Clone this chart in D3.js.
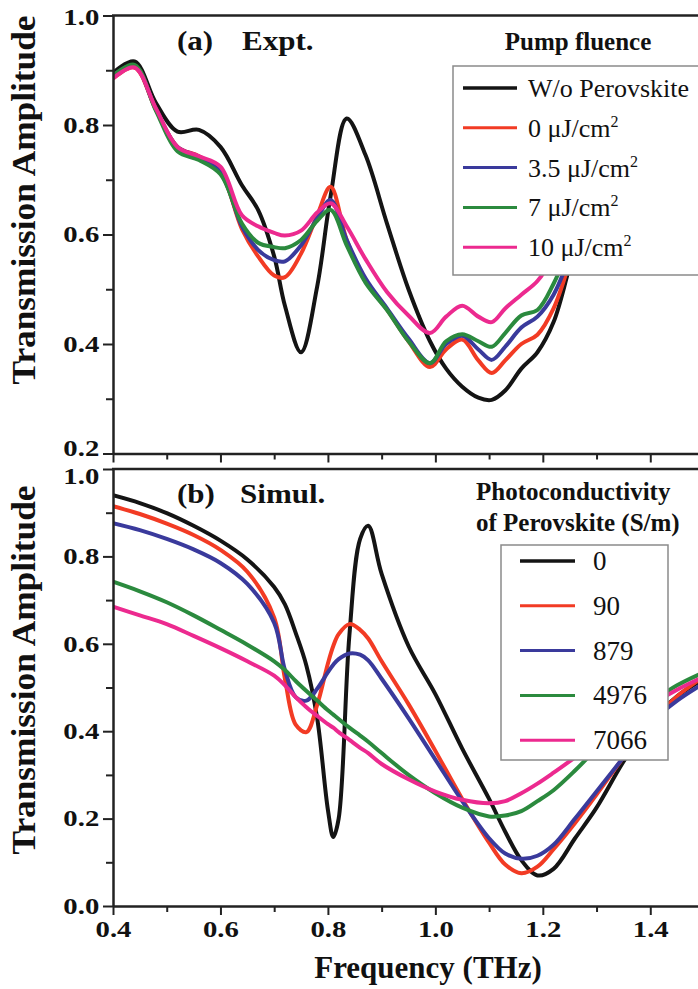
<!DOCTYPE html>
<html>
<head>
<meta charset="utf-8">
<script src="https://cdn.jsdelivr.net/npm/d3@7"></script>
<style>
  html, body { margin: 0; padding: 0; background: #fff; }
  svg { display: block; font-family: "Liberation Serif", "Times New Roman", serif; }
</style>
</head>
<body>
<div id="chart"></div>
<script>
// ---- (a) Expt. ----
const freqA = [0.40, 0.44, 0.48, 0.52, 0.56, 0.60, 0.64, 0.67, 0.70, 0.72, 0.75, 0.78, 0.805, 0.835, 0.87, 0.91, 0.95, 0.99, 1.02, 1.05, 1.08, 1.105, 1.13, 1.16, 1.19, 1.22, 1.25, 1.28];
const exptNoPerov = [0.895, 0.916, 0.84, 0.788, 0.791, 0.76, 0.69, 0.645, 0.56, 0.47, 0.385, 0.505, 0.67, 0.812, 0.745, 0.62, 0.50, 0.405, 0.355, 0.322, 0.302, 0.298, 0.315, 0.355, 0.385, 0.44, 0.541, 0.64];
const expt0 = [0.885, 0.905, 0.828, 0.76, 0.743, 0.714, 0.61, 0.56, 0.525, 0.522, 0.565, 0.635, 0.687, 0.59, 0.515, 0.463, 0.405, 0.358, 0.39, 0.408, 0.37, 0.347, 0.37, 0.40, 0.417, 0.465, 0.55, 0.65];
const expt35 = [0.89, 0.908, 0.828, 0.76, 0.742, 0.714, 0.615, 0.572, 0.553, 0.551, 0.58, 0.63, 0.663, 0.59, 0.52, 0.465, 0.41, 0.365, 0.40, 0.415, 0.39, 0.371, 0.395, 0.43, 0.45, 0.49, 0.56, 0.65];
const expt7 = [0.89, 0.91, 0.826, 0.752, 0.736, 0.71, 0.62, 0.585, 0.577, 0.575, 0.59, 0.625, 0.645, 0.58, 0.512, 0.462, 0.405, 0.365, 0.405, 0.418, 0.405, 0.395, 0.42, 0.452, 0.462, 0.51, 0.58, 0.66];
const expt10 = [0.885, 0.905, 0.83, 0.76, 0.743, 0.724, 0.635, 0.615, 0.603, 0.598, 0.607, 0.64, 0.657, 0.615, 0.555, 0.495, 0.452, 0.42, 0.45, 0.47, 0.45, 0.44, 0.465, 0.49, 0.515, 0.56, 0.62, 0.68];
const exptLabels = ["W/o Perovskite", "0", "3.5", "7", "10"];

// ---- (b) Simul. ----
const freqB = [0.40, 0.45, 0.50, 0.55, 0.60, 0.65, 0.70, 0.72, 0.74, 0.76, 0.78, 0.80, 0.81, 0.82, 0.84, 0.86, 0.875, 0.90, 0.95, 1.00, 1.05, 1.10, 1.13, 1.16, 1.19, 1.22, 1.26, 1.30, 1.35, 1.40, 1.45, 1.50];
const simul0 = [0.94, 0.922, 0.899, 0.87, 0.836, 0.793, 0.73, 0.69, 0.625, 0.55, 0.43, 0.22, 0.158, 0.20, 0.62, 0.84, 0.87, 0.76, 0.595, 0.485, 0.36, 0.245, 0.17, 0.105, 0.07, 0.085, 0.155, 0.225, 0.33, 0.42, 0.48, 0.52];
const simul90 = [0.915, 0.897, 0.875, 0.849, 0.815, 0.765, 0.66, 0.52, 0.415, 0.398, 0.46, 0.555, 0.595, 0.622, 0.645, 0.632, 0.612, 0.56, 0.462, 0.355, 0.245, 0.145, 0.095, 0.075, 0.09, 0.13, 0.19, 0.255, 0.34, 0.42, 0.48, 0.525];
const simul879 = [0.876, 0.86, 0.84, 0.816, 0.785, 0.737, 0.648, 0.54, 0.478, 0.47, 0.497, 0.535, 0.552, 0.565, 0.578, 0.575, 0.562, 0.52, 0.43, 0.335, 0.24, 0.155, 0.12, 0.108, 0.115, 0.14, 0.20, 0.262, 0.34, 0.418, 0.47, 0.51];
const simul4976 = [0.742, 0.72, 0.695, 0.665, 0.632, 0.598, 0.56, 0.54, 0.515, 0.492, 0.47, 0.448, 0.438, 0.428, 0.408, 0.39, 0.376, 0.35, 0.30, 0.258, 0.225, 0.205, 0.207, 0.217, 0.24, 0.265, 0.31, 0.36, 0.42, 0.465, 0.505, 0.535];
const simul7066 = [0.685, 0.665, 0.645, 0.618, 0.59, 0.56, 0.527, 0.505, 0.478, 0.455, 0.435, 0.416, 0.408, 0.398, 0.38, 0.362, 0.35, 0.325, 0.29, 0.262, 0.243, 0.235, 0.24, 0.258, 0.28, 0.305, 0.34, 0.375, 0.42, 0.46, 0.495, 0.525];
const simulLabels = ["0", "90", "879", "4976", "7066"];

const xTicks = [0.4, 0.6, 0.8, 1.0, 1.2, 1.4];
const xMinor = [0.5, 0.7, 0.9, 1.1, 1.3, 1.5];
const yTicksA = [0.2, 0.4, 0.6, 0.8, 1.0];
const yMinorA = [0.3, 0.5, 0.7, 0.9];
const yTicksB = [0.0, 0.2, 0.4, 0.6, 0.8, 1.0];
const yMinorB = [0.1, 0.3, 0.5, 0.7, 0.9];

const colors = ["#141414", "#f23b24", "#3a3a9c", "#2b8a3e", "#ec2a8f"];

const width = 698;
const height = 989;
const plotLeft = 113;
const plotRight = 698;
const axisColor = "#222";

const x = d3.scaleLinear().domain([0.4, 1.5]).range([113, 704]);
const yA = d3.scaleLinear().domain([0.2, 1.0]).range([453.5, 15.5]);
const yB = d3.scaleLinear().domain([0.0, 1.0]).range([906, 469]);

const svg = d3.select("#chart")
    .append("svg")
    .attr("width", width)
    .attr("height", height)
    .attr("viewBox", `0 0 ${width} ${height}`);

// text that is a bit wider than the plain font
const wideText = (parent, tx, ty, str, size, sx, anchor) => {
    return parent.append("text")
        .attr("transform", `translate(${tx},${ty}) scale(${sx},1)`)
        .attr("text-anchor", anchor || "start")
        .attr("font-size", size)
        .attr("font-weight", "bold")
        .attr("fill", "#111")
        .text(str);
};

const styleAxis = (g) => {
    g.select(".domain").attr("stroke", axisColor).attr("stroke-width", 2.5);
    g.selectAll(".tick line").attr("stroke", axisColor).attr("stroke-width", 2);
};

const styleTickText = (g) => {
    g.selectAll("text")
        .attr("font-size", 23)
        .attr("font-weight", "bold")
        .attr("font-family", "Liberation Serif, serif")
        .attr("fill", "#111")
        .attr("transform", "scale(1.25,1)");
};

const drawPanel = (y, freq, seriesVals, yTicks, yMinor, id, showXLabels, labelShift) => {
    const [yBottom, yTop] = y.range();

    svg.append("clipPath").attr("id", id)
        .append("rect")
        .attr("x", plotLeft).attr("y", yTop)
        .attr("width", plotRight - plotLeft).attr("height", yBottom - yTop);

    const line = d3.line()
        .x((d, i) => x(freq[i]))
        .y(d => y(d))
        .curve(d3.curveCatmullRom.alpha(0.5));

    svg.append("g")
        .attr("clip-path", `url(#${id})`)
        .selectAll("path")
        .data(seriesVals)
        .join("path")
        .attr("d", d => line(d))
        .attr("fill", "none")
        .attr("stroke", (d, i) => colors[i])
        .attr("stroke-width", 4)
        .attr("stroke-linejoin", "round");

    // top frame line
    svg.append("line")
        .attr("x1", plotLeft - 1).attr("x2", plotRight)
        .attr("y1", yTop).attr("y2", yTop)
        .attr("stroke", axisColor).attr("stroke-width", 2.5);

    // left axis
    const gy = svg.append("g")
        .attr("transform", `translate(${plotLeft},0)`)
        .call(d3.axisLeft(y).tickValues(yTicks).tickSize(10).tickPadding(1)
            .tickSizeOuter(0).tickFormat(d3.format(".1f")));
    styleAxis(gy);
    styleTickText(gy);
    // keep the 0.2 / 1.0 labels at the panel joint apart
    gy.selectAll(".tick text")
        .attr("y", d => labelShift[d] || 0);

    const gyMinor = svg.append("g")
        .attr("transform", `translate(${plotLeft},0)`)
        .call(d3.axisLeft(y).tickValues(yMinor).tickSize(7).tickFormat(""));
    gyMinor.select(".domain").remove();
    styleAxis(gyMinor);

    // bottom axis
    const gx = svg.append("g")
        .attr("transform", `translate(0,${yBottom})`)
        .call(d3.axisBottom(x).tickValues(xTicks).tickSize(9).tickPadding(6)
            .tickSizeOuter(0).tickFormat(showXLabels ? d3.format(".1f") : ""));
    styleAxis(gx);
    styleTickText(gx);

    const gxMinor = svg.append("g")
        .attr("transform", `translate(0,${yBottom})`)
        .call(d3.axisBottom(x).tickValues(xMinor).tickSize(6).tickFormat(""));
    gxMinor.select(".domain").remove();
    styleAxis(gxMinor);
};

drawPanel(yA, freqA, [exptNoPerov, expt0, expt35, expt7, expt10], yTicksA, yMinorA, "clipA", false, { 0.2: -5, 1: 2 });
drawPanel(yB, freqB, [simul0, simul90, simul879, simul4976, simul7066], yTicksB, yMinorB, "clipB", true, { 1: 7 });

// panel titles
wideText(svg, 177, 50, "(a)", 27, 1.15);
wideText(svg, 242, 50, "Expt.", 27, 1.15);
wideText(svg, 177, 503, "(b)", 27, 1.15);
wideText(svg, 240, 503, "Simul.", 27, 1.15);

// axis titles
const yTitle = (cy) => svg.append("text")
    .attr("transform", `translate(35,${cy}) rotate(-90) scale(1.07,1)`)
    .attr("text-anchor", "middle")
    .attr("font-size", 33)
    .attr("font-weight", "bold")
    .attr("fill", "#111")
    .text("Transmission Amplitude");
yTitle(200);
yTitle(670);

svg.append("text")
    .attr("x", 428).attr("y", 978)
    .attr("text-anchor", "middle")
    .attr("font-size", 31)
    .attr("font-weight", "bold")
    .attr("fill", "#111")
    .text("Frequency (THz)");

// ---- legend (a) ----
const legA = svg.append("g");
legA.append("text")
    .attr("x", 578).attr("y", 50)
    .attr("text-anchor", "middle")
    .attr("font-size", 25)
    .attr("font-weight", "bold")
    .attr("fill", "#111")
    .text("Pump fluence");
legA.append("rect")
    .attr("x", 453).attr("y", 66)
    .attr("width", 270).attr("height", 209)
    .attr("fill", "#fff")
    .attr("stroke", "#8a8a8a").attr("stroke-width", 1.5);

exptLabels.forEach((lab, i) => {
    const ly = 88 + i * 39.8;
    legA.append("line")
        .attr("x1", 463).attr("x2", 517)
        .attr("y1", ly).attr("y2", ly)
        .attr("stroke", colors[i]).attr("stroke-width", i === 0 ? 3.5 : 3);
    const t = legA.append("text")
        .attr("x", 528).attr("y", ly + 9)
        .attr("font-size", 26)
        .attr("fill", "#111");
    if (i === 0) {
        t.text(lab);
    } else {
        t.append("tspan").text(`${lab} \u03bcJ/cm`);
        t.append("tspan").attr("font-size", 16).attr("dy", -10).text("2");
    }
});

// ---- legend (b) ----
const legB = svg.append("g");
legB.append("text")
    .attr("x", 476).attr("y", 500)
    .attr("font-size", 25)
    .attr("font-weight", "bold")
    .attr("fill", "#111")
    .text("Photoconductivity");
legB.append("text")
    .attr("x", 476).attr("y", 531)
    .attr("font-size", 25)
    .attr("font-weight", "bold")
    .attr("fill", "#111")
    .text("of Perovskite (S/m)");
legB.append("rect")
    .attr("x", 501).attr("y", 545)
    .attr("width", 167).attr("height", 215)
    .attr("fill", "#fff")
    .attr("stroke", "#8a8a8a").attr("stroke-width", 1.5);

simulLabels.forEach((lab, i) => {
    const ly = 561 + i * 44.8;
    legB.append("line")
        .attr("x1", 520).attr("x2", 575)
        .attr("y1", ly).attr("y2", ly)
        .attr("stroke", colors[i]).attr("stroke-width", i === 0 ? 3.5 : 3);
    legB.append("text")
        .attr("x", 593).attr("y", ly + 9)
        .attr("font-size", 27)
        .attr("fill", "#111")
        .text(lab);
});
</script>
</body>
</html>
